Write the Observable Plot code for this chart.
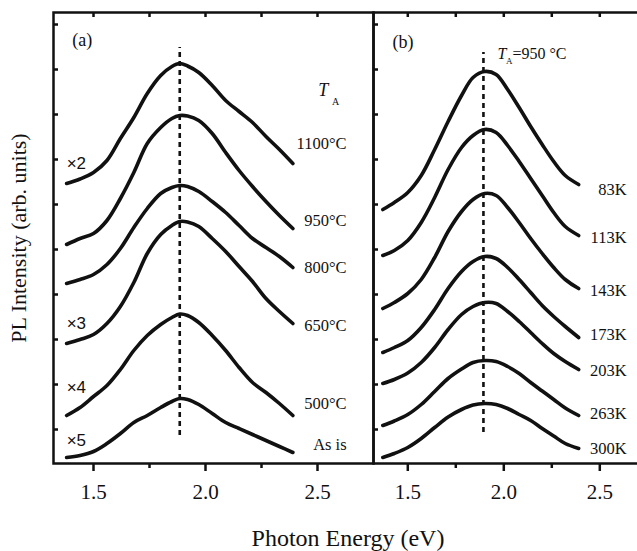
<!DOCTYPE html>
<html>
<head>
<meta charset="utf-8">
<script src="https://cdn.jsdelivr.net/npm/d3@7"></script>
<script src="https://cdn.jsdelivr.net/npm/@observablehq/plot@0.6"></script>
<style>
  html, body { margin: 0; padding: 0; background: white; }
  #wrap { position: relative; width: 637px; height: 551px; background: white; overflow: hidden; }
  #wrap svg { position: absolute; top: 0; max-width: none; }
  #xtitle { position: absolute; top: 525px; left: 53px; width: 590px; text-align: center;
            font-family: "Liberation Serif", "Times New Roman", serif; font-size: 24px; color: #111; }
</style>
</head>
<body>
<div id="wrap"><div id="xtitle">Photon Energy (eV)</div></div>
<script>
// ---------- data ----------
// Panel (a): annealing temperature series, PL intensity (arb. units, offset-stacked)
const energyA = [1.38, 1.44, 1.50, 1.56, 1.62, 1.68, 1.74, 1.80, 1.85, 1.885, 1.92, 1.97, 2.03, 2.09, 2.15, 2.21, 2.27, 2.33, 2.39];
const pl1100 = [280, 284.5, 291, 303, 325, 346, 370, 388, 397, 400, 397.5, 391, 378, 363, 352, 341, 327, 314, 300];
const pl950  = [219, 225, 230, 243, 265, 291, 320, 336, 345, 348, 347.5, 343, 330, 311, 293, 277, 262, 248, 235];
const pl800  = [180, 184, 189, 199, 215, 236, 255, 270, 276, 278, 277, 272, 262, 251, 238, 225, 216, 207, 196];
const pl650  = [120, 124, 129, 140, 157, 181, 210, 229, 238, 242, 241.5, 237, 225, 212, 197, 182, 165, 152, 140];
const pl500  = [48, 56, 67, 78, 94, 113, 128, 139, 146, 149.5, 148, 141, 128, 113, 96, 81, 71, 60, 48];
const plAsIs = [6, 8, 12, 20, 30, 41, 48, 56, 62, 65, 64, 59, 50, 41, 35, 29, 23, 17, 11];
const seriesA = ["1100°C", "950°C", "800°C", "650°C", "500°C", "As is"];
const valuesA = [pl1100, pl950, pl800, pl650, pl500, plAsIs];
const labelAY = [320, 243, 196, 138, 60, 19];
const factorsA = ["×2", "×3", "×4", "×5"];
const factorAY = [300, 140, 76, 23];
const peakA = 1.885;

// Panel (b): measurement temperature series (TA = 950 °C)
const energyB = [1.37, 1.43, 1.50, 1.57, 1.64, 1.71, 1.78, 1.84, 1.90, 1.96, 2.02, 2.08, 2.14, 2.20, 2.26, 2.32, 2.39];
const k83  = [254, 261, 271, 288, 314, 342, 368, 386, 392, 389, 374, 356, 337, 319, 302, 288, 279];
const k113 = [208, 213, 223, 241, 266, 294, 316, 328, 334, 331, 318, 302, 285, 268, 251, 237, 228];
const k143 = [155, 161, 170, 184, 206, 232, 252, 264, 270, 268, 256, 241, 225, 210, 196, 184, 175];
const k173 = [111, 116, 123, 136, 154, 175, 192, 202, 207, 205, 196, 184, 171, 158, 147, 137, 126];
const k203 = [80, 84, 90.5, 101, 116, 134, 149, 157, 161, 160, 152, 142, 131, 120, 110, 102, 94];
const k263 = [38, 42.5, 49, 59, 72, 85, 94.5, 101, 103, 102, 97, 90, 81, 72.5, 64, 55.5, 48];
const k300 = [6, 10, 16, 25, 36, 46.5, 54, 58.5, 60, 59, 55, 49, 43, 35, 27.5, 20, 15];
const seriesB = ["83K", "113K", "143K", "173K", "203K", "263K", "300K"];
const valuesB = [k83, k113, k143, k173, k203, k263, k300];
const labelBY = [274, 226, 173, 129, 93, 50, 15];
const peakB = 1.894;

// axes
const xMajor = [1.5, 2.0, 2.5];
const xMinor = [1.75, 2.25];
const xTickLabels = ["1.5", "2.0", "2.5"];
const yTicks = [34, 79, 124, 169, 214, 259, 304, 349, 394, 439];
const yDomain = [0, 451];
const xDomainA = [1.3214, 2.75];
const xDomainB = [1.3214, 2.712];

// ---------- build tables ----------
const rowsA = seriesA.flatMap((s, i) => energyA.map((e, j) => ({series: s, E: e, I: valuesA[i][j]})));
const rowsB = seriesB.flatMap((s, i) => energyB.map((e, j) => ({series: s, E: e, I: valuesB[i][j]})));
const labA = seriesA.map((s, i) => ({t: s, y: labelAY[i]}));
const facA = factorsA.map((s, i) => ({t: s, y: factorAY[i]}));
const labB = seriesB.map((s, i) => ({t: s, y: labelBY[i]}));
const tickLab = xMajor.map((v, i) => ({x: v, t: xTickLabels[i]}));

const serif = '"Liberation Serif", "Times New Roman", serif';
const sans = '"Liberation Sans", Arial, sans-serif';
const ink = "#111";

function frameAxes() {
  return [
    Plot.axisX({anchor: "bottom", ticks: xMajor, tickSize: 8, strokeWidth: 2.5,
      tickFormat: () => "", label: null, color: ink}),
    Plot.axisX({anchor: "bottom", ticks: xMinor, tickSize: 5, strokeWidth: 2.5,
      tickFormat: () => "", label: null, color: ink}),
    Plot.axisX({anchor: "top", ticks: xMajor.concat(xMinor), tickSize: -4, strokeWidth: 2.5,
      tickFormat: () => "", label: null, color: ink}),
    Plot.axisY({anchor: "left", ticks: yTicks, tickSize: -5, strokeWidth: 2.5,
      tickFormat: () => "", label: null, color: ink}),
    Plot.text(tickLab, {x: "x", frameAnchor: "bottom", text: "t", dy: 29, lineAnchor: "middle",
      fontSize: 21, fontFamily: serif, fill: ink})
  ];
}

const chartA = Plot.plot({
  width: 374, height: 551,
  marginLeft: 53, marginRight: 1, marginTop: 12, marginBottom: 88,
  style: {background: "transparent", overflow: "visible", fontFamily: serif, color: ink},
  x: {domain: xDomainA}, y: {domain: yDomain},
  marks: [
    ...frameAxes(),
    Plot.ruleX([peakA], {y1: 28, y2: 416, stroke: ink, strokeWidth: 2.6, strokeDasharray: "5,4"}),
    Plot.line(rowsA, {x: "E", y: "I", z: "series", stroke: ink, strokeWidth: 3.6,
      curve: "catmull-rom", strokeLinecap: "round", strokeLinejoin: "round"}),
    Plot.text(labA, {x: 2.63, y: "y", text: "t", textAnchor: "end", fontSize: 16.5, fontFamily: serif, fill: ink}),
    Plot.text(facA, {x: 1.38, y: "y", text: "t", textAnchor: "start", fontSize: 17, fontFamily: sans, fill: ink}),
    Plot.text(["(a)"], {x: 1.405, y: 423, textAnchor: "start", fontSize: 18, fontFamily: serif, fill: ink}),
    Plot.text(["T"], {x: 2.503, y: 373, textAnchor: "start", fontSize: 18, fontStyle: "italic", fontFamily: serif, fill: ink}),
    Plot.text(["A"], {x: 2.565, y: 362, textAnchor: "start", fontSize: 10, fontFamily: serif, fill: ink}),
    Plot.text(["PL Intensity (arb. units)"], {frameAnchor: "left", textAnchor: "middle", rotate: -90, dx: -35,
      fontSize: 22, fontFamily: serif, fill: ink}),
    Plot.frame({stroke: ink, strokeWidth: 2.5})
  ]
});
chartA.style.left = "0px";

const chartB = Plot.plot({
  width: 265, height: 551,
  marginLeft: 1, marginRight: -3, marginTop: 12, marginBottom: 88,
  style: {background: "transparent", overflow: "hidden", fontFamily: serif, color: ink},
  x: {domain: xDomainB}, y: {domain: yDomain},
  marks: [
    ...frameAxes(),
    Plot.ruleX([peakB], {y1: 31, y2: 411, stroke: ink, strokeWidth: 2.6, strokeDasharray: "5,4"}),
    Plot.line(rowsB, {x: "E", y: "I", z: "series", stroke: ink, strokeWidth: 3.6,
      curve: "catmull-rom", strokeLinecap: "round", strokeLinejoin: "round"}),
    Plot.text(labB, {x: 2.64, y: "y", text: "t", textAnchor: "end", fontSize: 16.5, fontFamily: serif, fill: ink}),
    Plot.text(["(b)"], {x: 1.42, y: 421, textAnchor: "start", fontSize: 18, fontFamily: serif, fill: ink}),
    Plot.text(["T"], {x: 1.967, y: 410, textAnchor: "start", fontSize: 16, fontStyle: "italic", fontFamily: serif, fill: ink}),
    Plot.text(["A"], {x: 2.012, y: 402, textAnchor: "start", fontSize: 9, fontFamily: serif, fill: ink}),
    Plot.text(["=950 °C"], {x: 2.045, y: 410, textAnchor: "start", fontSize: 16, fontFamily: serif, fill: ink}),
    Plot.frame({stroke: ink, strokeWidth: 2.5})
  ]
});
chartB.style.left = "372px";

const wrap = document.getElementById("wrap");
wrap.appendChild(chartA);
wrap.appendChild(chartB);
</script>
</body>
</html>
